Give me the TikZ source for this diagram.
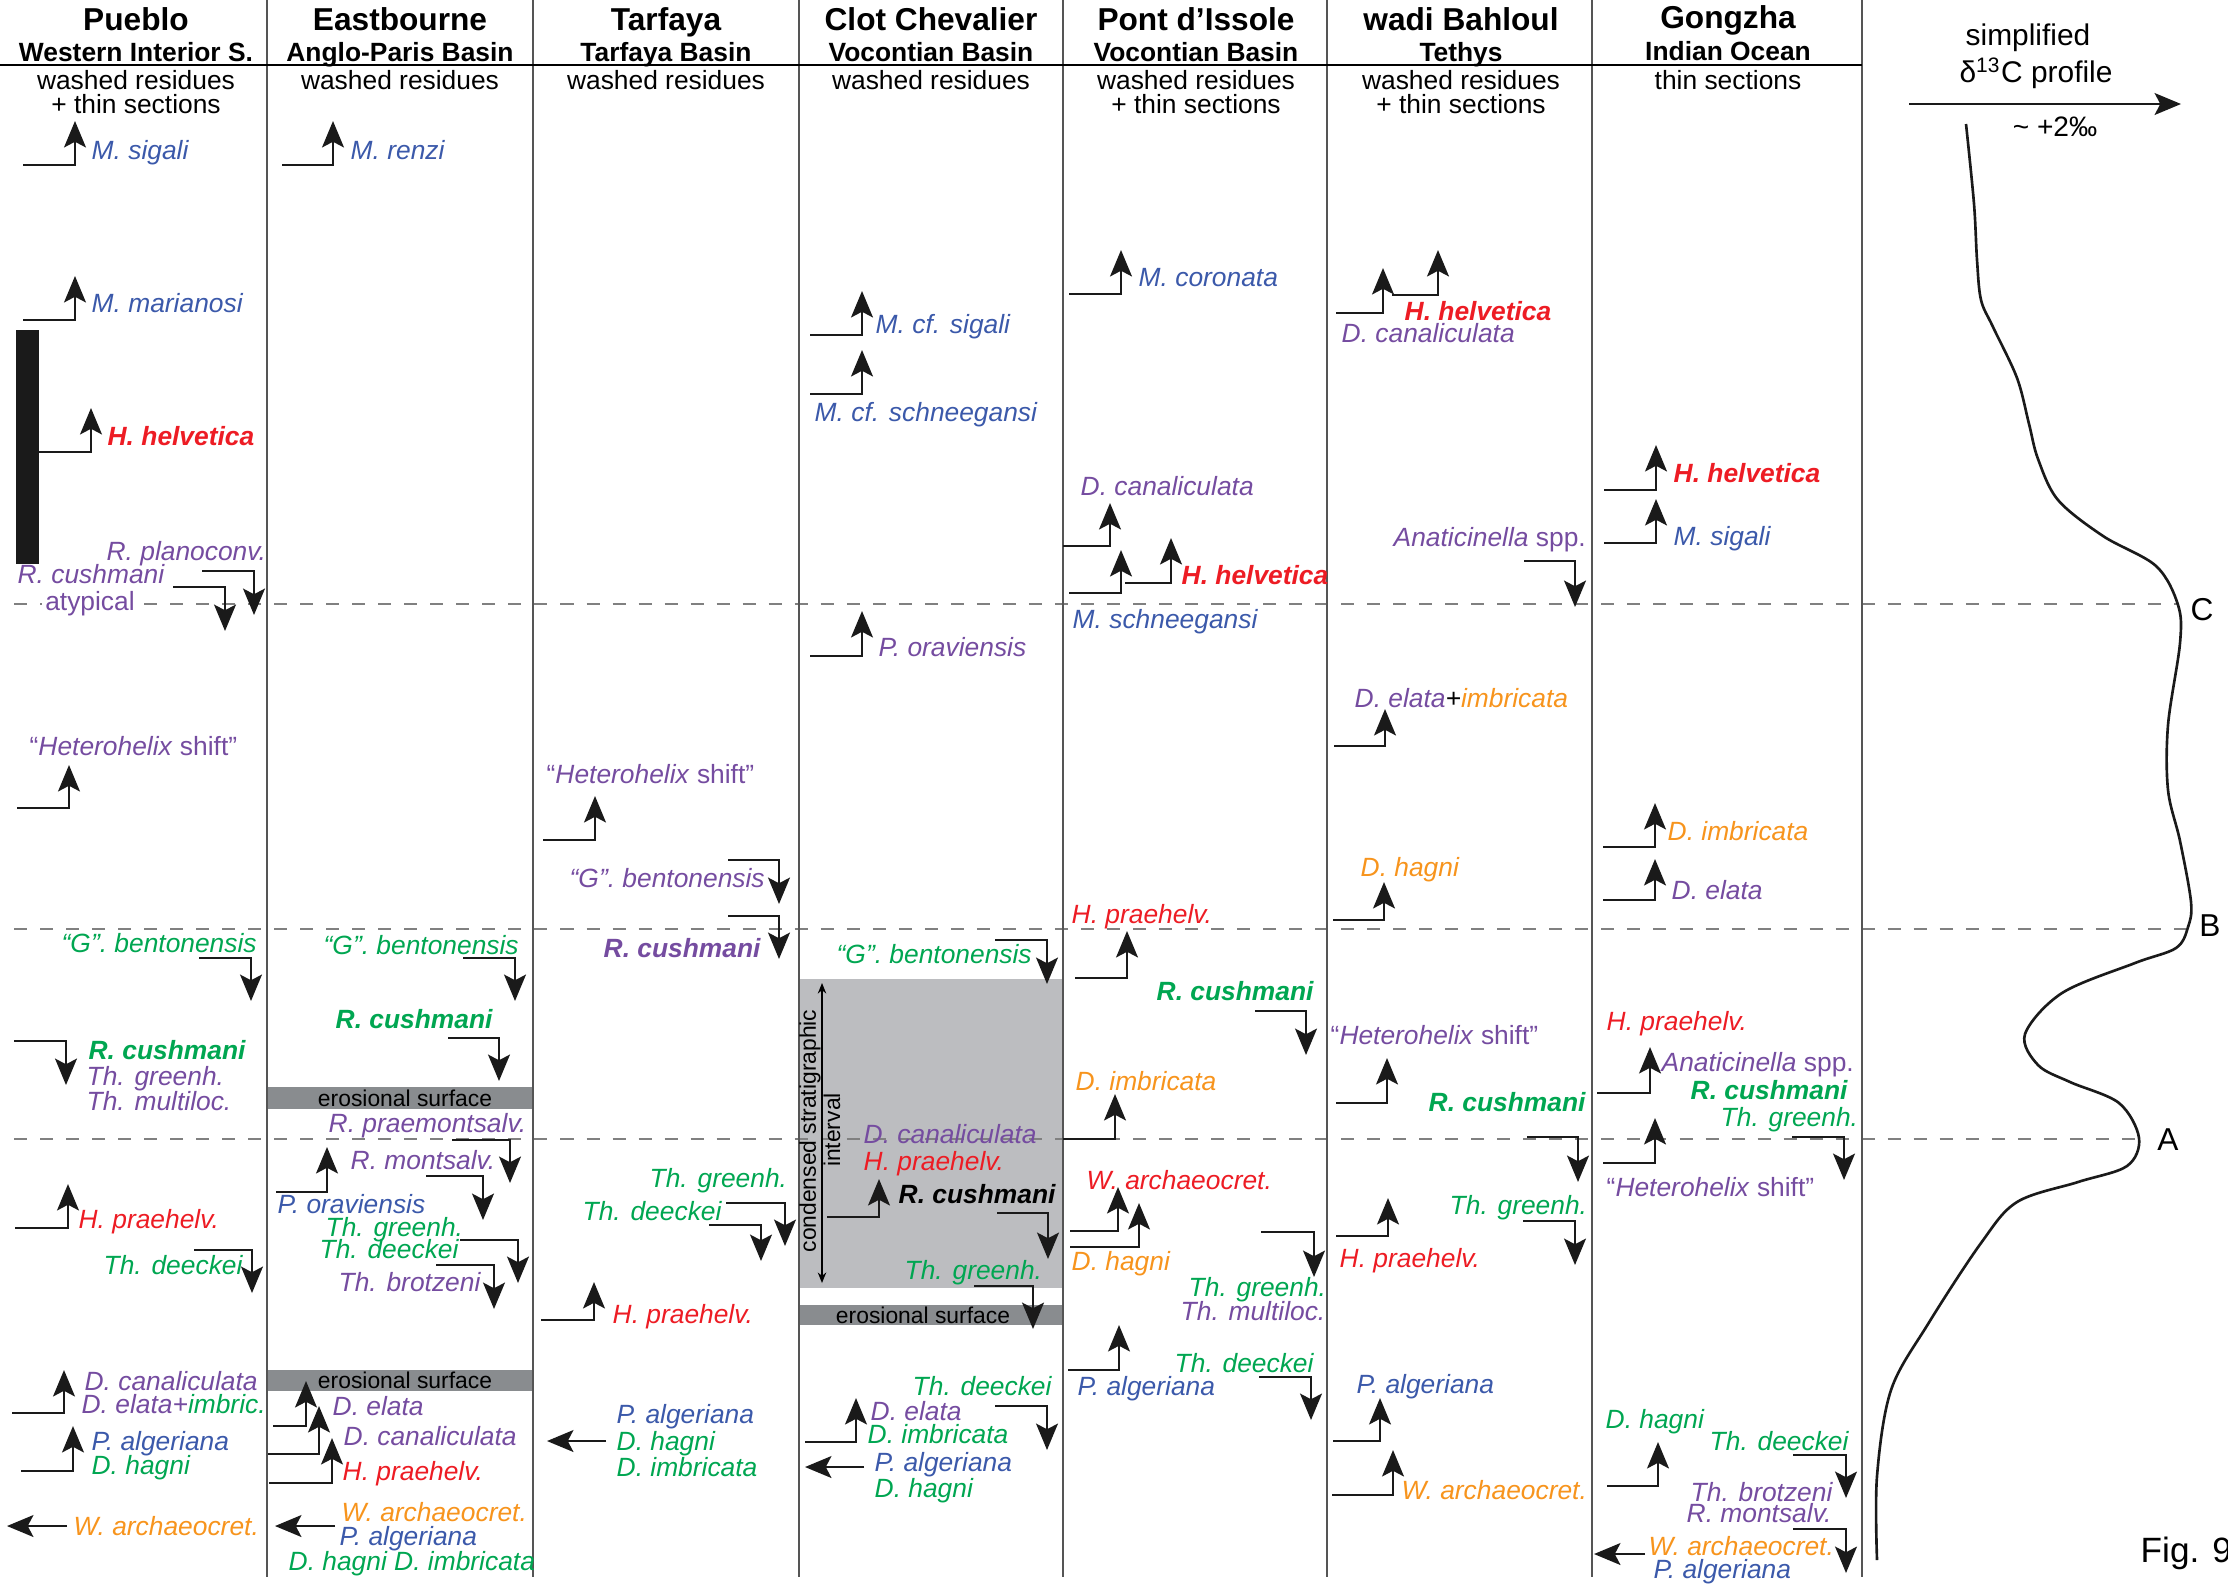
\documentclass[tikz,border=0pt]{standalone}
\usepackage{fontspec}
\setmainfont{Liberation Sans}
\usetikzlibrary{arrows.meta}
\definecolor{fosblue}{RGB}{59, 89, 170}
\definecolor{fospurple}{RGB}{117, 76, 160}
\definecolor{fosgreen}{RGB}{0, 166, 81}
\definecolor{fosred}{RGB}{237, 28, 36}
\definecolor{fosorange}{RGB}{247, 148, 29}
\definecolor{erosgray}{RGB}{137, 140, 143}
\definecolor{condgray}{RGB}{188, 189, 192}
\definecolor{dashgray}{RGB}{128, 128, 128}
\definecolor{rulegray}{RGB}{85, 85, 85}
\definecolor{arrowblack}{RGB}{26, 26, 26}

\begin{document}
\begin{tikzpicture}[
    x=0.01cm, y=-0.01cm,
    % Node styles
    site/.style={font=\fontsize{9}{10}\selectfont\bfseries, anchor=base, inner sep=0pt},
    basin/.style={font=\fontsize{7.5}{9}\selectfont\bfseries, anchor=base, inner sep=0pt},
    method/.style={font=\fontsize{7.5}{9}\selectfont, anchor=base, inner sep=0pt},
    taxon/.style={font=\fontsize{7.5}{9}\selectfont\itshape, text=#1, anchor=base west, inner sep=0pt},
    marker/.style={taxon=#1, font=\fontsize{7.5}{9}\selectfont\bfseries\itshape},
    heteroshift/.style={taxon=fospurple, font=\fontsize{7.5}{9}\selectfont},
    surface/.style={font=\fontsize{6.5}{7}\selectfont, inner sep=0pt},
    % Line styles
    rangeline/.style={-{Stealth[length=7.5pt, width=6.2pt, inset=1.6pt]}, line width=0.75pt, color=arrowblack},
    horizon/.style={dash pattern=on 3.7pt off 3.7pt, line width=0.7pt, color=dashgray},
    sepline/.style={line width=0.6pt, color=rulegray}
]
\useasboundingbox (0,0) rectangle (2228,1587);

% ============================================
% BACKGROUND BOXES
% ============================================
\fill[condgray] (799,979) rectangle (1063,1288);
\fill[erosgray] (268,1087) rectangle (533,1109);
\fill[erosgray] (268,1370) rectangle (533,1391);
\fill[erosgray] (799,1305) rectangle (1063,1325);
\fill[arrowblack] (16,330) rectangle (39,564);

\node[surface] (ea-eros1) at (405,1098) {erosional surface};
\node[surface] (ea-eros2) at (405,1380) {erosional surface};
\node[surface] (cc-eros) at (923,1315) {erosional surface};

% ============================================
% HORIZONS A, B, C
% ============================================
\draw[horizon] (14,604) -- (2178,604);
\draw[horizon] (14,929) -- (2186,929);
\draw[horizon] (14,1139) -- (2135,1139);

% ============================================
% COLUMNS AND HEADER
% ============================================
\foreach \x in {267, 533, 799, 1063, 1327, 1592, 1862}
    \draw[sepline] (\x,0) -- (\x,1577);
\draw[line width=0.4pt] (0,65) -- (1862,65);

\node[site] (pueblo) at (136,30) {Pueblo};
\node[basin] at (136,61) {Western Interior S.};
\node[method] at (136,89) {washed residues};
\node[method] at (136,113) {+ thin sections};

\node[site] (eastbourne) at (400,30) {Eastbourne};
\node[basin] at (400,61) {Anglo-Paris Basin};
\node[method] at (400,89) {washed residues};

\node[site] (tarfaya) at (666,30) {Tarfaya};
\node[basin] at (666,61) {Tarfaya Basin};
\node[method] at (666,89) {washed residues};

\node[site] (clot) at (931,30) {Clot Chevalier};
\node[basin] at (931,61) {Vocontian Basin};
\node[method] at (931,89) {washed residues};

\node[site] (pont) at (1196,30) {Pont d’Issole};
\node[basin] at (1196,61) {Vocontian Basin};
\node[method] at (1196,89) {washed residues};
\node[method] at (1196,113) {+ thin sections};

\node[site] (wadi) at (1461,30) {wadi Bahloul};
\node[basin] at (1461,61) {Tethys};
\node[method] at (1461,89) {washed residues};
\node[method] at (1461,113) {+ thin sections};

\node[site] (gongzha) at (1728,28) {Gongzha};
\node[basin] at (1728,60) {Indian Ocean};
\node[method] at (1728,89) {thin sections};

% ============================================
% PUEBLO
% ============================================
\draw[rangeline] (23,165) -| (75,121);
\draw[rangeline] (23,320) -| (75,276);
\draw[rangeline] (39,452) -| (91,408);
\draw[rangeline] (202,571) -| (254,615);
\draw[rangeline] (173,587) -| (225,631);
\draw[rangeline] (17,808) -| (69,765);
\draw[rangeline] (199,958) -| (251,1001);
\draw[rangeline] (14,1041) -| (66,1085);
\draw[rangeline] (15,1228) -| (68,1184);
\draw[rangeline] (194,1250) -| (252,1293);
\draw[rangeline] (12,1413) -| (64,1370);
\draw[rangeline] (21,1471) -| (73,1426);
\draw[rangeline] (67,1526) -- (7,1526);

\node[taxon=fosblue] (pu-sigali) at (91,159) {M. sigali};
\node[taxon=fosblue] (pu-marianosi) at (91,312) {M. marianosi};
\node[marker=fosred] (pu-helvetica) at (107,445) {H. helvetica};
\node[taxon=fospurple] (pu-planoconv) at (106,560) {R. planoconv.};
\node[taxon=fospurple] (pu-cushatyp) at (17,583) {R. cushmani};
\node[taxon=fospurple, font=\fontsize{7.5}{9}\selectfont, anchor=base, fill=white, inner sep=1pt] (pu-atypical) at (90,610) {atypical};
\node[heteroshift] (pu-shift) at (29,755) {“\textit{Heterohelix} shift”};
\node[taxon=fosgreen] (pu-bento) at (61,952) {“G”. bentonensis};
\node[marker=fosgreen] (pu-cushmani) at (88,1059) {R. cushmani};
\node[taxon=fospurple] (pu-greenh) at (86,1085) {Th. greenh.};
\node[taxon=fospurple] (pu-multiloc) at (86,1110) {Th. multiloc.};
\node[taxon=fosred] (pu-praehelv) at (78,1228) {H. praehelv.};
\node[taxon=fosgreen] (pu-deeckei) at (103,1274) {Th. deeckei};
\node[taxon=fospurple] (pu-canalic) at (84,1390) {D. canaliculata};
\node[taxon=fospurple] (pu-elata) at (81,1413) {D. elata+\textcolor{fosgreen}{imbric.}};
\node[taxon=fosblue] (pu-algeriana) at (91,1450) {P. algeriana};
\node[taxon=fosgreen] (pu-hagni) at (91,1474) {D. hagni};
\node[taxon=fosorange] (pu-archaeo) at (73,1535) {W. archaeocret.};

% ============================================
% EASTBOURNE
% ============================================
\draw[rangeline] (282,165) -| (333,121);
\draw[rangeline] (463,958) -| (515,1001);
\draw[rangeline] (448,1038) -| (499,1081);
\draw[rangeline] (452,1140) -| (510,1183);
\draw[rangeline] (426,1176) -| (483,1220);
\draw[rangeline] (276,1192) -| (327,1147);
\draw[rangeline] (460,1240) -| (518,1283);
\draw[rangeline] (436,1265) -| (494,1309);
\draw[rangeline] (273,1426) -| (306,1381);
\draw[rangeline] (268,1454) -| (319,1406);
\draw[rangeline] (269,1483) -| (332,1438);
\draw[rangeline] (335,1526) -- (275,1526);

\node[taxon=fosblue] (ea-renzi) at (350,159) {M. renzi};
\node[taxon=fosgreen] (ea-bento) at (323,954) {“G”. bentonensis};
\node[marker=fosgreen] (ea-cushmani) at (335,1028) {R. cushmani};
\node[taxon=fospurple] (ea-praemont) at (328,1132) {R. praemontsalv.};
\node[taxon=fospurple] (ea-montsalv) at (350,1169) {R. montsalv.};
\node[taxon=fosblue] (ea-oravien) at (277,1213) {P. oraviensis};
\node[taxon=fosgreen] (ea-greenh) at (325,1236) {Th. greenh.};
\node[taxon=fosgreen] (ea-deeckei) at (319,1258) {Th. deeckei};
\node[taxon=fospurple] (ea-brotzeni) at (338,1291) {Th. brotzeni};
\node[taxon=fospurple] (ea-elata) at (332,1415) {D. elata};
\node[taxon=fospurple] (ea-canalic) at (343,1445) {D. canaliculata};
\node[taxon=fosred] (ea-praehelv) at (342,1480) {H. praehelv.};
\node[taxon=fosorange] (ea-archaeo) at (341,1521) {W. archaeocret.};
\node[taxon=fosblue] (ea-algeriana) at (339,1545) {P. algeriana};
\node[taxon=fosgreen] (ea-hagni) at (288,1570) {D. hagni D. imbricata};

% ============================================
% TARFAYA
% ============================================
\draw[rangeline] (543,840) -| (595,796);
\draw[rangeline] (728,860) -| (779,904);
\draw[rangeline] (728,916) -| (779,959);
\draw[rangeline] (726,1203) -| (785,1246);
\draw[rangeline] (709,1225) -| (761,1261);
\draw[rangeline] (541,1320) -| (594,1282);
\draw[rangeline] (606,1441) -- (547,1441);

\node[heteroshift] (ta-shift) at (546,783) {“\textit{Heterohelix} shift”};
\node[taxon=fospurple] (ta-bento) at (569,887) {“G”. bentonensis};
\node[marker=fospurple] (ta-cushmani) at (603,957) {R. cushmani};
\node[taxon=fosgreen] (ta-greenh) at (649,1187) {Th. greenh.};
\node[taxon=fosgreen] (ta-deeckei) at (582,1220) {Th. deeckei};
\node[taxon=fosred] (ta-praehelv) at (612,1323) {H. praehelv.};
\node[taxon=fosblue] (ta-algeriana) at (616,1423) {P. algeriana};
\node[taxon=fosgreen] (ta-hagni) at (616,1450) {D. hagni};
\node[taxon=fosgreen] (ta-imbric) at (616,1476) {D. imbricata};

% ============================================
% CLOT CHEVALIER
% ============================================
\draw[rangeline] (810,335) -| (862,291);
\draw[rangeline] (810,394) -| (862,350);
\draw[rangeline] (810,656) -| (862,611);
\draw[rangeline] (995,940) -| (1047,984);
\draw[rangeline] (827,1217) -| (879,1179);
\draw[rangeline] (997,1213) -| (1048,1259);
\draw[rangeline] (974,1286) -| (1033,1329);
\draw[rangeline] (805,1442) -| (856,1398);
\draw[rangeline] (995,1406) -| (1047,1450);
\draw[rangeline] (864,1467) -- (805,1467);
\draw[{Stealth[length=3pt, width=2.4pt]}-{Stealth[length=3pt, width=2.4pt]}, line width=0.4pt] (822,983) -- (822,1283);

\node[surface, rotate=90] (cc-condensed) at (810,1131) {condensed stratigraphic};
\node[surface, rotate=90] (cc-interval) at (832,1130) {interval};
\node[taxon=fosblue] (cc-sigali) at (875,333) {M. cf. sigali};
\node[taxon=fosblue] (cc-schneeg) at (814,421) {M. cf. schneegansi};
\node[taxon=fospurple] (cc-oravien) at (878,656) {P. oraviensis};
\node[taxon=fosgreen] (cc-bento) at (836,963) {“G”. bentonensis};
\node[taxon=fospurple] (cc-canalic) at (863,1143) {D. canaliculata};
\node[taxon=fosred] (cc-praehelv) at (863,1170) {H. praehelv.};
\node[marker=black] (cc-cushmani) at (898,1203) {R. cushmani};
\node[taxon=fosgreen] (cc-greenh) at (904,1279) {Th. greenh.};
\node[taxon=fosgreen] (cc-deeckei) at (912,1395) {Th. deeckei};
\node[taxon=fospurple] (cc-elata) at (870,1420) {D. elata};
\node[taxon=fosgreen] (cc-imbric) at (867,1443) {D. imbricata};
\node[taxon=fosblue] (cc-algeriana) at (874,1471) {P. algeriana};
\node[taxon=fosgreen] (cc-hagni) at (874,1497) {D. hagni};

% ============================================
% PONT D'ISSOLE
% ============================================
\draw[rangeline] (1069,294) -| (1121,250);
\draw[rangeline] (1063,546) -| (1110,503);
\draw[rangeline] (1069,593) -| (1121,550);
\draw[rangeline] (1125,583) -| (1171,538);
\draw[rangeline] (1075,978) -| (1127,931);
\draw[rangeline] (1255,1011) -| (1306,1055);
\draw[rangeline] (1063,1139) -| (1115,1094);
\draw[rangeline] (1070,1231) -| (1118,1187);
\draw[rangeline] (1070,1247) -| (1139,1203);
\draw[rangeline] (1261,1232) -| (1314,1277);
\draw[rangeline] (1068,1370) -| (1119,1325);
\draw[rangeline] (1259,1377) -| (1311,1420);

\node[taxon=fosblue] (pi-coronata) at (1138,286) {M. coronata};
\node[taxon=fospurple] (pi-canalic) at (1080,495) {D. canaliculata};
\node[marker=fosred] (pi-helvetica) at (1181,584) {H. helvetica};
\node[taxon=fosblue] (pi-schneeg) at (1072,628) {M. schneegansi};
\node[taxon=fosred] (pi-praehelv) at (1071,923) {H. praehelv.};
\node[marker=fosgreen] (pi-cushmani) at (1156,1000) {R. cushmani};
\node[taxon=fosorange] (pi-imbric) at (1075,1090) {D. imbricata};
\node[taxon=fosred] (pi-archaeo) at (1086,1189) {W. archaeocret.};
\node[taxon=fosorange] (pi-hagni) at (1071,1270) {D. hagni};
\node[taxon=fosgreen] (pi-greenh) at (1188,1296) {Th. greenh.};
\node[taxon=fospurple] (pi-multiloc) at (1180,1320) {Th. multiloc.};
\node[taxon=fosgreen] (pi-deeckei) at (1174,1372) {Th. deeckei};
\node[taxon=fosblue] (pi-algeriana) at (1077,1395) {P. algeriana};

% ============================================
% WADI BAHLOUL
% ============================================
\draw[rangeline] (1336,313) -| (1383,268);
\draw[rangeline] (1392,295) -| (1438,250);
\draw[rangeline] (1524,561) -| (1575,607);
\draw[rangeline] (1334,746) -| (1385,709);
\draw[rangeline] (1333,920) -| (1384,882);
\draw[rangeline] (1336,1103) -| (1387,1058);
\draw[rangeline] (1527,1137) -| (1578,1182);
\draw[rangeline] (1523,1221) -| (1575,1265);
\draw[rangeline] (1336,1236) -| (1388,1198);
\draw[rangeline] (1333,1441) -| (1380,1398);
\draw[rangeline] (1332,1495) -| (1393,1450);

\node[marker=fosred] (wb-helvetica) at (1404,320) {H. helvetica};
\node[taxon=fospurple] (wb-canalic) at (1341,342) {D. canaliculata};
\node[heteroshift] (wb-anatic) at (1393,546) {\textit{Anaticinella} spp.};
\node[taxon=fospurple] (wb-elata) at (1354,707) {D. elata\textcolor{black}{+}\textcolor{fosorange}{imbricata}};
\node[taxon=fosorange] (wb-hagni) at (1360,876) {D. hagni};
\node[heteroshift] (wb-shift) at (1330,1044) {“\textit{Heterohelix} shift”};
\node[marker=fosgreen] (wb-cushmani) at (1428,1111) {R. cushmani};
\node[taxon=fosgreen] (wb-greenh) at (1449,1214) {Th. greenh.};
\node[taxon=fosred] (wb-praehelv) at (1339,1267) {H. praehelv.};
\node[taxon=fosblue] (wb-algeriana) at (1356,1393) {P. algeriana};
\node[taxon=fosorange] (wb-archaeo) at (1401,1499) {W. archaeocret.};

% ============================================
% GONGZHA
% ============================================
\draw[rangeline] (1604,490) -| (1656,445);
\draw[rangeline] (1604,543) -| (1656,499);
\draw[rangeline] (1603,847) -| (1655,803);
\draw[rangeline] (1603,900) -| (1655,859);
\draw[rangeline] (1597,1093) -| (1650,1047);
\draw[rangeline] (1603,1163) -| (1655,1118);
\draw[rangeline] (1792,1137) -| (1844,1180);
\draw[rangeline] (1607,1486) -| (1658,1442);
\draw[rangeline] (1793,1455) -| (1846,1498);
\draw[rangeline] (1793,1529) -| (1846,1573);
\draw[rangeline] (1645,1554) -- (1594,1554);

\node[marker=fosred] (go-helvetica) at (1673,482) {H. helvetica};
\node[taxon=fosblue] (go-sigali) at (1673,545) {M. sigali};
\node[taxon=fosorange] (go-imbric) at (1667,840) {D. imbricata};
\node[taxon=fospurple] (go-elata) at (1671,899) {D. elata};
\node[taxon=fosred] (go-praehelv) at (1606,1030) {H. praehelv.};
\node[heteroshift] (go-anatic) at (1661,1071) {\textit{Anaticinella} spp.};
\node[marker=fosgreen] (go-cushmani) at (1690,1099) {R. cushmani};
\node[taxon=fosgreen] (go-greenh) at (1720,1126) {Th. greenh.};
\node[heteroshift] (go-shift) at (1606,1196) {“\textit{Heterohelix} shift”};
\node[taxon=fosgreen] (go-hagni) at (1605,1428) {D. hagni};
\node[taxon=fosgreen] (go-deeckei) at (1709,1450) {Th. deeckei};
\node[taxon=fospurple] (go-brotzeni) at (1690,1501) {Th. brotzeni};
\node[taxon=fospurple] (go-montsalv) at (1686,1522) {R. montsalv.};
\node[taxon=fosorange] (go-archaeo) at (1648,1555) {W. archaeocret.};
\node[taxon=fosblue] (go-algeriana) at (1653,1578) {P. algeriana};

% ============================================
% CARBON ISOTOPE PROFILE
% ============================================
\node[font=\fontsize{8.5}{10}\selectfont, anchor=base, inner sep=0pt] (iso-title1) at (2028,45) {simplified};
\node[font=\fontsize{8.5}{10}\selectfont, anchor=base, inner sep=0pt] (iso-title2) at (2036,82) {δ\textsuperscript{13}C profile};
\draw[rangeline] (1909,104) -- (2181,104);
\node[font=\fontsize{8}{9}\selectfont, anchor=base, inner sep=0pt] (iso-scale) at (2055,136) {\textasciitilde{} +2‰};

\draw[line width=0.75pt, color=arrowblack] plot[smooth, tension=0.55] coordinates {
    (1966,124) (1974,204) (1977,260) (1981,300) (1993,327) (2017,378) (2029,424)
    (2038,459) (2058,500) (2103,536) (2156,566) (2178,605) (2180,643)
    (2168,725) (2168,790) (2180,841) (2191,902) (2188,927) (2176,948)
    (2135,963) (2062,993) (2025,1034) (2038,1065) (2070,1082) (2119,1103)
    (2139,1138) (2127,1166) (2078,1182) (2017,1202) (1981,1243) (1928,1324)
    (1891,1390) (1877,1476) (1877,1560)};

\node[font=\fontsize{9}{10}\selectfont, inner sep=0pt] (hor-c) at (2202,610) {C};
\node[font=\fontsize{9}{10}\selectfont, inner sep=0pt] (hor-b) at (2210,926) {B};
\node[font=\fontsize{9}{10}\selectfont, inner sep=0pt] (hor-a) at (2168,1140) {A};

\node[font=\fontsize{10}{11}\selectfont, anchor=base west, inner sep=0pt] (fig) at (2140,1562) {Fig. 9};

\end{tikzpicture}
\end{document}
